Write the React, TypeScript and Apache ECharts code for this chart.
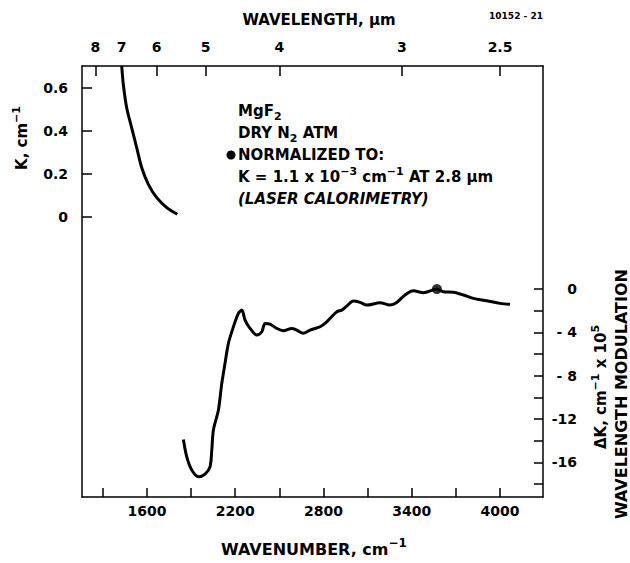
import React, { useEffect, useRef } from "react";
import * as echarts from "echarts";

// ---- data ----
// Upper curve: absorption coefficient K (cm^-1) vs wavenumber (cm^-1)
const kWavenumber = [1429, 1440, 1463, 1497, 1531, 1565, 1610, 1667, 1735, 1807];
const kValues = [0.70, 0.613, 0.505, 0.412, 0.32, 0.228, 0.151, 0.089, 0.043, 0.012];

// Lower curve: wavelength-modulation ΔK (x 1e5 cm^-1) vs wavenumber
const dkWavenumber = [
  1848, 1871, 1905, 1950, 1995, 2029, 2041, 2052, 2086, 2109, 2131, 2154, 2188, 2222, 2245,
  2267, 2301, 2347, 2381, 2403, 2437, 2482, 2527, 2584, 2618, 2663, 2709, 2777, 2822, 2890,
  2924, 2958, 3003, 3049, 3094, 3184, 3252, 3298, 3354, 3411, 3479, 3571, 3615, 3683, 3751,
  3818, 3910, 4000, 4068,
];
const dkValues = [
  -13.88, -15.49, -16.71, -17.33, -17.08, -16.41, -14.87, -13.02, -11.17, -8.71, -6.86, -5.01,
  -3.48, -2.24, -1.94, -2.86, -3.63, -4.25, -3.94, -3.17, -3.23, -3.63, -3.85, -3.63, -3.79,
  -4.09, -3.79, -3.48, -3.02, -2.1, -1.94, -1.57, -1.11, -1.23, -1.48, -1.26, -1.48, -1.23,
  -0.55, -0.16, -0.34, 0, -0.25, -0.3, -0.55, -0.86, -1.08, -1.32, -1.41,
];
// Normalization point (2.8 µm)
const normWavenumber = [3571];
const normValue = [0];

// Axes
const bottomTicks = [1300, 1600, 1900, 2200, 2500, 2800, 3100, 3400, 3700, 4000];
const bottomLabels = [1600, 2200, 2800, 3400, 4000];
const topWavelengths = [8, 7, 6, 5, 4, 3, 2.5];
const kTicks = [0, 0.2, 0.4, 0.6];
const dkTicks = [-18, -16, -14, -12, -10, -8, -6, -4, -2, 0];
const dkLabels = [-16, -12, -8, -4, 0];

const FONT = "DejaVu Sans, Verdana, sans-serif";

export default function App() {
  const ref = useRef<HTMLDivElement>(null);

  useEffect(() => {
    if (!ref.current) return;
    const chart = echarts.init(ref.current, undefined, { renderer: "svg" });

    const tickLabel = { color: "#000", fontFamily: FONT, fontWeight: "bold" as const, fontSize: 14 };
    const lineStyle = { color: "#000", width: 1.5 };
    const topVals = topWavelengths.map((w) => 10000 / w);

    const base = { fontFamily: FONT, fontWeight: "bold", color: "#000", fontSize: 15, lineHeight: 22, verticalAlign: "middle" };
    const sup = { fontFamily: FONT, fontWeight: "bold", color: "#000", fontSize: 11, lineHeight: 11, verticalAlign: "top" };
    const sub = { fontFamily: FONT, fontWeight: "bold", color: "#000", fontSize: 11, lineHeight: 11, verticalAlign: "bottom" };
    const richSet = { b: base, s: sup, d: sub, i: { ...base, fontStyle: "italic" } };
    const titleRich = (size: number) => ({
      b: { ...base, fontSize: size, lineHeight: Math.round(size * 1.5) },
      s: { ...sup, fontSize: Math.round(size * 0.72), lineHeight: Math.round(size * 0.72) },
    });

    chart.setOption({
      animation: false,
      backgroundColor: "#fff",
      grid: { left: 82, right: 87, top: 66, bottom: 66, containLabel: false },
      xAxis: [
        {
          type: "value",
          position: "bottom",
          min: 1159,
          max: 4292,
          axisLine: { show: true, onZero: false, lineStyle },
          axisTick: { show: true, inside: true, length: 9, customValues: bottomTicks, lineStyle },
          axisLabel: { ...tickLabel, margin: 7, customValues: bottomLabels, formatter: (v: number) => String(v) },
          splitLine: { show: false },
        },
        {
          type: "value",
          position: "top",
          min: 1159,
          max: 4292,
          axisLine: { show: true, onZero: false, lineStyle },
          axisTick: { show: true, inside: true, length: 10, customValues: topVals, lineStyle },
          axisLabel: {
            ...tickLabel,
            margin: 12,
            customValues: topVals,
            formatter: (v: number) => String(+(10000 / v).toFixed(1)),
          },
          splitLine: { show: false },
        },
      ],
      yAxis: [
        {
          type: "value",
          position: "left",
          min: -1.3,
          max: 0.7,
          axisLine: { show: true, onZero: false, lineStyle },
          axisTick: { show: true, inside: true, length: 10, customValues: kTicks, lineStyle },
          axisLabel: {
            ...tickLabel,
            margin: 14,
            customValues: kTicks,
            formatter: (v: number) => (v === 0 ? "0" : v.toFixed(1)),
          },
          splitLine: { show: false },
        },
        {
          type: "value",
          position: "right",
          min: -19.2,
          max: 20.6,
          axisLine: { show: true, onZero: false, lineStyle },
          axisTick: { show: true, inside: true, length: 9, customValues: dkTicks, lineStyle },
          axisLabel: {
            ...tickLabel,
            margin: 34,
            align: "right",
            customValues: dkLabels,
            formatter: (v: number) => (v === 0 ? "0" : v > -10 ? "- " + -v : "-" + -v),
          },
          splitLine: { show: false },
        },
      ],
      series: [
        {
          type: "line",
          name: "K",
          xAxisIndex: 0,
          yAxisIndex: 0,
          data: kWavenumber.map((x, i) => [x, kValues[i]]),
          smooth: 0.3,
          showSymbol: false,
          symbol: "none",
          lineStyle: { color: "#000", width: 3 },
        },
        {
          type: "line",
          name: "ΔK",
          xAxisIndex: 0,
          yAxisIndex: 1,
          data: dkWavenumber.map((x, i) => [x, dkValues[i]]),
          smooth: 0.3,
          showSymbol: false,
          symbol: "none",
          lineStyle: { color: "#000", width: 3 },
        },
        {
          type: "scatter",
          name: "normalization",
          xAxisIndex: 0,
          yAxisIndex: 1,
          data: normWavenumber.map((x, i) => [x, normValue[i]]),
          symbol: "circle",
          symbolSize: 10,
          itemStyle: { color: "#000" },
        },
      ],
      graphic: [
        {
          type: "text",
          x: 319,
          y: 20,
          style: { text: "WAVELENGTH, µm", fontFamily: FONT, fontWeight: "bold", fontSize: 15, fill: "#000", align: "center", verticalAlign: "middle" },
        },
        {
          type: "text",
          x: 516,
          y: 16,
          style: { text: "10152 - 21", fontFamily: FONT, fontWeight: "bold", fontSize: 9, fill: "#000", align: "center", verticalAlign: "middle" },
        },
        {
          type: "text",
          x: 314,
          y: 549,
          style: { text: "{b|WAVENUMBER, cm}{s|−1}", rich: titleRich(16), align: "center", verticalAlign: "middle" },
        },
        {
          type: "text",
          x: 22,
          y: 138,
          rotation: Math.PI / 2,
          style: { text: "{b|K, cm}{s|−1}", rich: titleRich(15), align: "center", verticalAlign: "middle" },
        },
        {
          type: "text",
          x: 601,
          y: 387,
          rotation: Math.PI / 2,
          style: { text: "{b|ΔK, cm}{s|−1}{b| x 10}{s|5}", rich: titleRich(15), align: "center", verticalAlign: "middle" },
        },
        {
          type: "text",
          x: 621,
          y: 394,
          rotation: Math.PI / 2,
          style: { text: "WAVELENGTH MODULATION", fontFamily: FONT, fontWeight: "bold", fontSize: 16, fill: "#000", align: "center", verticalAlign: "middle" },
        },
        {
          type: "text",
          x: 238,
          y: 100,
          style: {
            text: "{b|MgF}{d|2}\n{b|DRY N}{d|2}{b| ATM}\n{b|NORMALIZED TO:}\n{b|K = 1.1 x 10}{s|−3}{b| cm}{s|−1}{b| AT 2.8 µm}\n{i|(LASER CALORIMETRY)}",
            rich: richSet,
            align: "left",
            verticalAlign: "top",
          },
        },
        {
          type: "circle",
          shape: { cx: 231, cy: 155, r: 4.5 },
          style: { fill: "#000" },
        },
      ],
    });

    return () => chart.dispose();
  }, []);

  return (
    <div
      ref={ref}
      style={{ position: "fixed", left: 0, top: 0, width: 630, height: 563, background: "#fff" }}
    />
  );
}
